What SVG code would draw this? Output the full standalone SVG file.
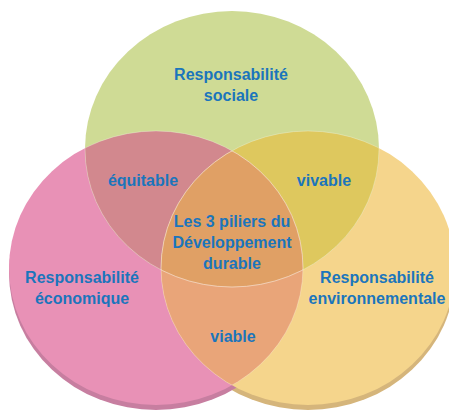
<svg xmlns="http://www.w3.org/2000/svg" width="449" height="410" viewBox="0 0 449 410">
<style>
text{font-family:"Liberation Sans",Arial,sans-serif;font-weight:bold;font-size:16px;fill:#1b75bc;text-anchor:middle}
.edge{fill:none;stroke:#ffffff;stroke-opacity:0.35;stroke-width:0.8}
</style>
<defs>
<clipPath id="cG"><ellipse cx="232" cy="149" rx="147" ry="138"/></clipPath>
<clipPath id="cP"><ellipse cx="156" cy="268" rx="147" ry="137"/></clipPath>
<clipPath id="cY"><ellipse cx="308" cy="268" rx="147" ry="137"/></clipPath>
</defs>
<rect width="449" height="410" fill="#ffffff"/>
<g id="shadows">
<ellipse cx="308" cy="273" rx="147" ry="137" fill="#d5b57b"/>
<ellipse cx="156" cy="273" rx="147" ry="137" fill="#c77ea0"/>
</g>
<g id="economique">
<ellipse cx="156" cy="268" rx="147" ry="137" fill="#e891b6"/>
</g>
<g id="environnementale">
<ellipse cx="308" cy="268" rx="147" ry="137" fill="#f5d58c"/>
</g>
<g id="sociale">
<ellipse cx="232" cy="149" rx="147" ry="138" fill="#cfdb95"/>
</g>
<g id="equitable">
<g clip-path="url(#cG)"><ellipse cx="156" cy="268" rx="147" ry="137" fill="#d2888e"/></g>
</g>
<g id="vivable">
<g clip-path="url(#cG)"><ellipse cx="308" cy="268" rx="147" ry="137" fill="#dec85e"/></g>
</g>
<g id="viable">
<g clip-path="url(#cP)"><ellipse cx="308" cy="268" rx="147" ry="137" fill="#e9a579"/></g>
</g>
<g id="centre">
<g clip-path="url(#cP)"><g clip-path="url(#cY)"><ellipse cx="232" cy="149" rx="147" ry="138" fill="#e0a065"/></g></g>
</g>
<g id="edges">
<g clip-path="url(#cG)"><ellipse class="edge" cx="156" cy="268" rx="147" ry="137"/><ellipse class="edge" cx="308" cy="268" rx="147" ry="137"/></g>
<g clip-path="url(#cP)"><ellipse class="edge" cx="308" cy="268" rx="147" ry="137"/><ellipse class="edge" cx="232" cy="149" rx="147" ry="138"/></g>
<g clip-path="url(#cY)"><ellipse class="edge" cx="156" cy="268" rx="147" ry="137"/><ellipse class="edge" cx="232" cy="149" rx="147" ry="138"/></g>
</g>
<g id="labels">
<text x="231" y="80">Responsabilité</text>
<text x="231" y="101">sociale</text>
<text x="143" y="186">équitable</text>
<text x="324" y="186">vivable</text>
<text x="232" y="227">Les 3 piliers du</text>
<text x="232" y="248">Développement</text>
<text x="232" y="269">durable</text>
<text x="82" y="283">Responsabilité</text>
<text x="82" y="304">économique</text>
<text x="377" y="283">Responsabilité</text>
<text x="377" y="304">environnementale</text>
<text x="233" y="342">viable</text>
</g>
</svg>
